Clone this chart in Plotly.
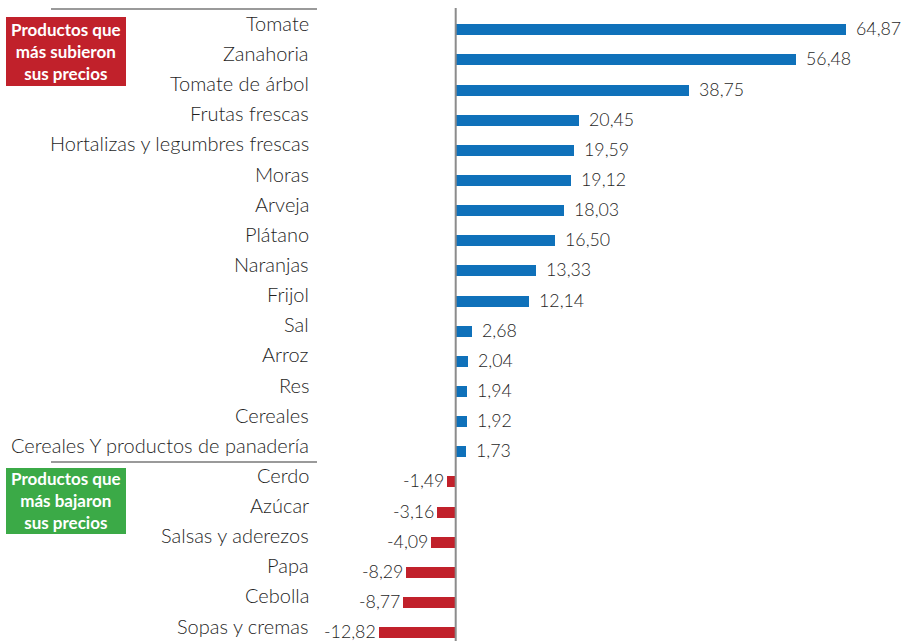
import plotly.graph_objects as go

categories = ["Tomate", "Zanahoria", "Tomate de árbol", "Frutas frescas",
              "Hortalizas y legumbres frescas", "Moras", "Arveja", "Plátano",
              "Naranjas", "Frijol", "Sal", "Arroz", "Res", "Cereales",
              "Cereales Y productos de panadería", "Cerdo", "Azúcar",
              "Salsas y aderezos", "Papa", "Cebolla", "Sopas y cremas"]
values = [64.87, 56.48, 38.75, 20.45, 19.59, 19.12, 18.03, 16.50, 13.33, 12.14,
          2.68, 2.04, 1.94, 1.92, 1.73, -1.49, -3.16, -4.09, -8.29, -8.77, -12.82]
box_up_text = "Productos que<br>más subieron<br>sus precios"
box_down_text = "Productos que<br>más bajaron<br>sus precios"

BLUE = "#0F71BA"
RED = "#C1212B"
GREEN = "#3BAA47"
TXT = "#1f1f1f"
W, H = 905, 641
FONT = "Lato"

idx = list(range(len(categories)))
colors = [BLUE if v >= 0 else RED for v in values]

fig = go.Figure()
fig.add_trace(go.Bar(
    x=values, y=idx, orientation="h", width=0.365,
    marker=dict(color=colors, line=dict(width=0)),
    hoverinfo="skip", showlegend=False,
))

annotations = []
for i, (c, v) in enumerate(zip(categories, values)):
    annotations.append(dict(
        x=311 / W, xref="paper", y=i, yref="y", text=c, showarrow=False,
        xanchor="right", yanchor="middle", yshift=7,
        font=dict(family=FONT, size=20, color=TXT, weight=300)))
    lab = f"{v:.2f}".replace(".", ",")
    annotations.append(dict(
        x=v, xref="x", y=i, yref="y", text=lab, showarrow=False,
        xanchor="left" if v >= 0 else "right", yanchor="middle",
        xshift=8 if v >= 0 else -1, yshift=1.5,
        font=dict(family=FONT, size=17.8, color=TXT, weight=300)))

def px(x):
    return x / W

def py(y):
    return 1 - y / H

annotations.append(dict(
    x=px(66), y=py(51), xref="paper", yref="paper", text=box_up_text,
    showarrow=False, xanchor="center", yanchor="middle", align="center",
    font=dict(family=FONT, size=17, color="white", weight="bold")))
annotations.append(dict(
    x=px(66), y=py(500), xref="paper", yref="paper", text=box_down_text,
    showarrow=False, xanchor="center", yanchor="middle", align="center",
    font=dict(family=FONT, size=17, color="white", weight="bold")))

shapes = [
    dict(type="rect", xref="paper", yref="paper", x0=px(6), x1=px(126),
         y0=py(86), y1=py(17), fillcolor=RED, line=dict(width=0), layer="below"),
    dict(type="rect", xref="paper", yref="paper", x0=px(6), x1=px(126),
         y0=py(534), y1=py(468), fillcolor=GREEN, line=dict(width=0), layer="below"),
    dict(type="line", xref="paper", yref="paper", x0=px(51), x1=px(317),
         y0=py(9), y1=py(9), line=dict(color="#9a9a9a", width=2)),
    dict(type="line", xref="paper", yref="paper", x0=px(51), x1=px(317),
         y0=py(462), y1=py(462), line=dict(color="#9a9a9a", width=2)),
    dict(type="line", xref="x", yref="paper", x0=0, x1=0,
         y0=0, y1=py(8), line=dict(color="#8c8c8c", width=2)),
]

s = 6.02
xa = -455.7 / s
xb = xa + W / s
fig.update_layout(
    width=W, height=H, margin=dict(l=0, r=0, t=0, b=0),
    paper_bgcolor="white", plot_bgcolor="white",
    xaxis=dict(range=[xa, xb], visible=False, fixedrange=True),
    yaxis=dict(range=[20.278, -0.989], visible=False, fixedrange=True),
    annotations=annotations, shapes=shapes, bargap=0,
    font=dict(family=FONT),
)
fig.write_html(
    "out.html",
    config={"displayModeBar": False},
    post_script="document.body.style.margin='0';document.body.style.overflow='hidden';",
)
